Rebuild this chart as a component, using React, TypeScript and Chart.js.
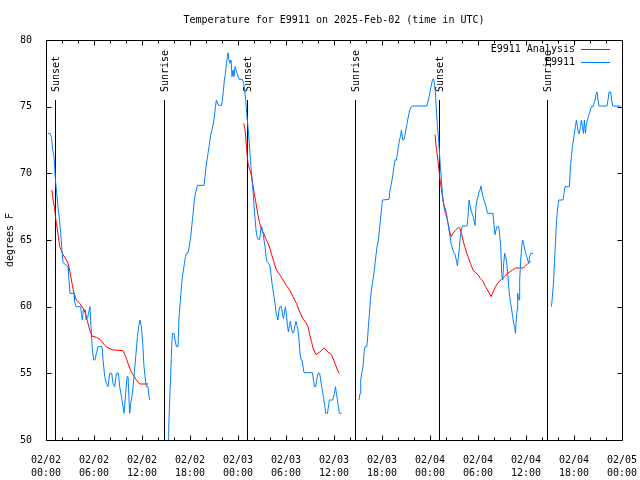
import React, { useEffect, useRef } from 'react';
import { Chart, registerables } from 'chart.js';

Chart.register(...registerables);

type Pt = [number, number];

// time axis: hours since 2025-02-02 00:00 UTC
const chartTitle = 'Temperature for E9911 on 2025-Feb-02 (time in UTC)';
const yAxisTitle = 'degrees F';
const xTickLabels = [
  '02/02\n00:00', '02/02\n06:00', '02/02\n12:00', '02/02\n18:00',
  '02/03\n00:00', '02/03\n06:00', '02/03\n12:00', '02/03\n18:00',
  '02/04\n00:00', '02/04\n06:00', '02/04\n12:00', '02/04\n18:00',
  '02/05\n00:00',
];
const sunEventTimes = [1.13, 14.75, 25.13, 38.63, 49.18, 62.63];
const sunEventLabels = ['Sunset', 'Sunrise', 'Sunset', 'Sunrise', 'Sunset', 'Sunrise'];
const seriesNames = ['E9911 Analysis', 'E9911'];

const analysisSeg1: Pt[] = [
  [0.75, 68.75], [0.88, 68.0], [1.05, 67.5], [1.18, 66.75], [1.3, 66.25], [1.43, 65.75],
  [1.71, 64.5], [1.88, 64.25], [2.13, 63.9], [2.55, 63.5], [2.75, 63.25], [2.96, 62.75],
  [3.25, 61.75], [3.5, 61.0], [3.8, 60.5], [4.21, 60.25], [4.63, 59.9], [4.93, 59.5],
  [5.18, 58.9], [5.46, 58.25], [5.75, 57.8], [6.3, 57.7], [6.84, 57.5], [7.34, 57.1],
  [7.75, 56.9], [8.38, 56.75], [9.63, 56.7], [9.96, 56.25], [10.25, 55.75], [10.55, 55.25],
  [10.88, 54.9], [11.3, 54.5], [11.71, 54.2], [12.8, 54.2],
];
const analysisSeg2: Pt[] = [
  [24.71, 73.75], [24.88, 73.25], [25.0, 72.5], [25.13, 71.5], [25.25, 70.75], [25.46, 70.3],
  [25.71, 69.75], [25.96, 68.75], [26.21, 67.9], [26.46, 67.0], [26.71, 66.25], [26.96, 65.75],
  [27.21, 65.5], [27.46, 65.1], [27.75, 64.75], [27.96, 64.4], [28.21, 63.9], [28.46, 63.4],
  [28.8, 62.75], [29.21, 62.4], [29.63, 62.0], [30.05, 61.6], [30.46, 61.25], [30.88, 60.75],
  [31.3, 60.25], [31.71, 59.6], [32.13, 59.1], [32.55, 58.75], [32.75, 58.5], [32.96, 57.9],
  [33.18, 57.4], [33.38, 56.9], [33.59, 56.6], [33.75, 56.4], [34.21, 56.6], [34.75, 56.9],
  [35.25, 56.6], [35.68, 56.4], [35.96, 56.0], [36.21, 55.6], [36.43, 55.25], [36.63, 55.0],
];
const analysisSeg3: Pt[] = [
  [48.63, 72.9], [48.75, 72.1], [48.88, 71.5], [49.0, 70.9], [49.13, 70.25], [49.25, 69.5],
  [49.38, 69.0], [49.5, 68.5], [49.63, 68.0], [49.75, 67.6], [49.88, 67.4], [50.05, 67.0],
  [50.18, 66.5], [50.34, 66.0], [50.46, 65.6], [50.63, 65.25], [50.88, 65.5], [51.21, 65.75],
  [51.55, 65.95], [51.71, 65.9], [51.93, 65.5], [52.13, 65.0], [52.34, 64.5], [52.55, 64.1],
  [52.75, 63.75], [53.05, 63.25], [53.38, 62.75], [53.68, 62.55], [54.0, 62.4], [54.3, 62.1],
  [54.63, 61.9], [54.93, 61.5], [55.18, 61.25], [55.46, 60.95], [55.63, 60.75], [55.88, 61.1],
  [56.18, 61.5], [56.5, 61.8], [56.93, 62.05], [57.34, 62.25], [57.68, 62.5], [57.96, 62.6],
  [58.3, 62.75], [58.68, 62.9], [59.21, 62.9], [59.63, 62.9], [59.93, 63.05], [60.25, 63.25],
  [60.59, 63.4],
];

const obsSeg1: Pt[] = [
  [0.25, 73.0], [0.5, 73.0], [0.68, 72.7], [0.84, 71.75], [1.0, 71.25], [1.18, 69.5],
  [1.34, 68.5], [1.5, 67.5], [1.68, 66.5], [1.84, 65.5], [2.0, 64.2], [2.13, 63.3],
  [2.75, 63.0], [2.81, 62.5], [3.0, 61.0], [3.5, 61.0], [3.56, 60.4], [3.75, 60.0],
  [4.34, 60.0], [4.43, 59.4], [4.55, 59.0], [4.68, 59.75], [4.93, 59.75], [5.0, 59.0],
  [5.21, 59.2], [5.34, 59.6], [5.5, 60.0], [5.68, 57.9], [5.8, 56.75], [5.96, 56.0],
  [6.13, 56.0], [6.3, 56.5], [6.5, 57.0], [7.0, 57.0], [7.13, 56.0], [7.34, 54.75],
  [7.55, 54.25], [7.75, 54.0], [7.96, 55.0], [8.21, 55.0], [8.38, 54.25], [8.59, 54.0],
  [8.8, 55.0], [9.05, 55.0], [9.21, 54.0], [9.43, 53.25], [9.63, 52.5], [9.75, 52.0],
  [9.96, 53.5], [10.13, 54.75], [10.25, 54.75], [10.46, 52.0], [10.59, 52.75], [10.8, 53.5],
  [11.0, 54.75], [11.25, 56.5], [11.43, 57.75], [11.59, 58.5], [11.75, 59.0], [11.93, 58.5],
  [12.09, 57.25], [12.25, 55.5], [12.43, 54.5], [12.55, 54.0], [12.75, 54.0], [12.88, 53.25],
  [13.0, 53.0],
];
const obsSeg2: Pt[] = [
  [15.25, 50.0], [15.34, 51.0], [15.46, 53.0], [15.59, 55.0], [15.71, 57.0], [15.8, 58.0],
  [16.0, 58.0], [16.13, 57.5], [16.3, 57.0], [16.5, 57.0], [16.63, 59.25], [16.8, 60.5],
  [16.93, 61.5], [17.05, 62.25], [17.18, 62.75], [17.3, 63.25], [17.43, 63.75], [17.55, 64.0],
  [17.71, 64.0], [17.84, 64.25], [17.96, 64.75], [18.09, 65.25], [18.3, 66.5], [18.43, 67.25],
  [18.55, 68.0], [18.68, 68.5], [18.93, 69.1], [19.75, 69.1], [19.88, 69.75], [20.0, 70.5],
  [20.13, 71.0], [20.25, 71.5], [20.38, 72.0], [20.5, 72.5], [20.63, 73.0], [20.8, 73.4],
  [20.93, 73.75], [21.05, 74.25], [21.18, 75.0], [21.3, 75.5], [21.55, 75.1], [21.93, 75.1],
  [22.05, 75.5], [22.18, 76.25], [22.3, 77.0], [22.43, 77.5], [22.55, 78.25], [22.68, 78.75],
  [22.75, 79.05], [22.88, 78.5], [23.0, 78.25], [23.13, 78.5], [23.25, 77.25], [23.38, 77.75],
  [23.5, 77.25], [23.63, 78.0], [23.75, 77.75], [23.88, 77.5], [24.0, 77.25], [24.13, 77.05],
  [24.55, 77.05], [24.71, 76.75], [24.84, 76.25], [24.96, 75.5], [25.13, 74.2], [25.25, 73.5],
  [25.38, 72.5], [25.5, 71.5], [25.63, 70.5], [25.75, 69.5], [25.88, 68.6], [26.0, 67.6],
  [26.13, 66.6], [26.25, 65.75], [26.38, 65.25], [26.5, 65.05], [26.71, 65.05], [26.84, 65.75],
  [26.96, 66.0], [27.13, 65.5], [27.25, 65.0], [27.38, 64.5], [27.5, 63.75], [27.63, 63.4],
  [27.8, 63.25], [28.0, 63.05], [28.13, 62.4], [28.25, 61.75], [28.38, 61.25], [28.5, 60.75],
  [28.63, 60.25], [28.75, 59.6], [28.88, 59.25], [29.0, 59.0], [29.13, 59.75], [29.25, 60.0],
  [29.43, 60.0], [29.55, 59.5], [29.68, 59.1], [29.8, 59.6], [29.93, 60.0], [30.05, 59.4],
  [30.18, 58.6], [30.3, 58.1], [30.43, 58.6], [30.55, 58.9], [30.68, 58.4], [30.8, 58.05],
  [30.96, 58.05], [31.09, 58.5], [31.25, 58.9], [31.38, 58.6], [31.5, 58.25], [31.63, 57.5],
  [31.75, 56.5], [31.88, 56.0], [32.0, 56.0], [32.13, 55.5], [32.25, 55.05], [33.3, 55.05],
  [33.43, 54.5], [33.55, 54.0], [33.71, 54.0], [33.84, 54.5], [34.0, 55.0], [34.21, 55.0],
  [34.34, 54.5], [34.46, 54.0], [34.59, 53.5], [34.71, 53.1], [34.84, 52.6], [34.96, 52.0],
  [35.18, 52.0], [35.3, 52.5], [35.43, 53.0], [35.84, 53.0], [36.05, 53.5], [36.18, 54.0],
  [36.3, 53.5], [36.43, 53.0], [36.55, 52.5], [36.68, 52.0], [36.93, 52.0],
];
const obsSeg3: Pt[] = [
  [39.13, 53.0], [39.25, 53.5], [39.34, 54.5], [39.46, 55.0], [39.63, 55.5], [39.75, 56.5],
  [39.88, 57.0], [40.09, 57.0], [40.18, 57.5], [40.3, 58.5], [40.43, 59.5], [40.55, 60.5],
  [40.68, 61.25], [40.8, 61.75], [40.93, 62.25], [41.05, 62.75], [41.18, 63.5], [41.38, 64.5],
  [41.55, 65.0], [41.68, 65.75], [41.8, 66.5], [41.93, 67.25], [42.05, 68.0], [42.88, 68.05],
  [43.0, 68.75], [43.13, 69.1], [43.25, 69.5], [43.38, 70.0], [43.5, 70.5], [43.63, 71.0],
  [43.8, 71.0], [43.93, 71.5], [44.05, 72.0], [44.18, 72.5], [44.3, 72.75], [44.43, 73.25],
  [44.59, 72.5], [44.71, 72.5], [44.84, 72.75], [44.96, 73.25], [45.09, 73.6], [45.21, 74.0],
  [45.34, 74.4], [45.46, 74.75], [45.68, 75.0], [45.88, 75.05], [47.63, 75.05], [47.75, 75.4],
  [47.88, 75.75], [48.0, 76.1], [48.13, 76.5], [48.3, 77.0], [48.43, 77.1], [48.55, 76.75],
  [48.68, 76.0], [48.8, 74.75], [48.93, 73.5], [49.05, 72.75], [49.3, 70.5], [49.43, 69.5],
  [49.55, 68.5], [49.68, 67.75], [49.8, 67.25], [49.93, 67.0], [50.13, 66.6], [50.25, 66.25],
  [50.38, 65.75], [50.5, 65.25], [50.63, 64.75], [50.75, 64.5], [50.93, 64.1], [51.09, 64.0],
  [51.25, 63.6], [51.43, 63.05], [51.55, 63.75], [51.68, 64.5], [51.8, 65.25], [51.93, 65.75],
  [52.05, 66.05], [52.63, 66.05], [52.75, 66.75], [52.88, 68.0], [53.0, 67.6], [53.13, 67.25],
  [53.25, 67.0], [53.38, 66.75], [53.5, 66.5], [53.63, 66.1], [53.75, 67.5], [53.88, 68.0],
  [54.0, 68.25], [54.13, 68.6], [54.25, 68.75], [54.38, 69.05], [54.5, 68.6], [54.63, 68.25],
  [54.75, 68.0], [54.88, 67.75], [55.05, 67.4], [55.18, 67.0], [55.88, 67.0], [56.0, 66.1],
  [56.13, 65.4], [56.25, 65.75], [56.38, 66.0], [56.59, 66.0], [56.71, 65.4], [56.84, 64.5],
  [56.96, 62.5], [57.09, 62.0], [57.21, 63.25], [57.34, 64.0], [57.46, 63.75], [57.59, 63.25],
  [57.71, 62.5], [57.84, 61.5], [57.96, 60.75], [58.09, 60.25], [58.21, 59.75], [58.34, 59.25],
  [58.46, 58.75], [58.59, 58.5], [58.68, 58.0], [58.75, 58.75], [58.88, 59.75], [58.96, 61.0],
  [59.05, 60.75], [59.13, 60.5], [59.21, 62.0], [59.34, 63.5], [59.46, 64.5], [59.59, 65.0],
  [59.71, 64.75], [59.84, 64.3], [59.96, 64.0], [60.09, 63.75], [60.21, 63.5], [60.34, 63.25],
  [60.46, 63.75], [60.59, 64.0], [60.88, 64.0],
];
const obsSeg4: Pt[] = [
  [63.18, 60.0], [63.3, 60.75], [63.43, 61.75], [63.55, 63.25], [63.68, 64.75], [63.8, 66.25],
  [63.93, 67.25], [64.09, 68.0], [64.63, 68.0], [64.75, 68.5], [64.88, 69.0], [65.43, 69.0],
  [65.55, 70.5], [65.68, 71.25], [65.8, 72.0], [65.93, 72.5], [66.05, 73.0], [66.18, 73.5],
  [66.3, 74.0], [66.43, 73.5], [66.55, 73.0], [66.68, 73.0], [66.8, 73.5], [66.93, 74.0],
  [67.05, 73.5], [67.18, 73.0], [67.3, 74.0], [67.43, 73.0], [67.55, 73.75], [67.68, 74.0],
  [67.8, 74.25], [67.93, 74.5], [68.05, 74.75], [68.18, 75.0], [68.38, 75.0], [68.5, 75.25],
  [68.63, 75.5], [68.75, 75.9], [68.88, 76.1], [69.0, 75.5], [69.13, 75.05], [70.13, 75.05],
  [70.25, 75.5], [70.38, 76.1], [70.59, 76.1], [70.71, 75.5], [70.84, 75.05], [71.84, 75.05],
];

const analysisSegments = [analysisSeg1, analysisSeg2, analysisSeg3];
const obsSegments = [obsSeg1, obsSeg2, obsSeg3, obsSeg4];

const RED = '#ff0000';
const BLUE = '#0080ff';
const FONT = '"DejaVu Sans Mono", "Liberation Mono", monospace';

function joinSegments(segs: Pt[][]) {
  const out: { x: number; y: number | null }[] = [];
  segs.forEach((s, i) => {
    if (i > 0) out.push({ x: s[0][0] - 0.05, y: null });
    s.forEach(([x, y]) => out.push({ x, y }));
  });
  return out;
}

const framePlugin = {
  id: 'frame',
  beforeDatasetsDraw(chart: any) {
    const { ctx, chartArea } = chart;
    const xs = chart.scales.x;
    ctx.save();
    ctx.strokeStyle = '#000';
    ctx.lineWidth = 1;
    ctx.fillStyle = '#000';
    ctx.font = `10px ${FONT}`;
    sunEventTimes.forEach((t, i) => {
      const px = Math.round(xs.getPixelForValue(t)) + 0.5;
      ctx.beginPath();
      ctx.moveTo(px, 100);
      ctx.lineTo(px, chartArea.bottom);
      ctx.stroke();
      ctx.save();
      ctx.translate(px + 1, 92);
      ctx.rotate(-Math.PI / 2);
      ctx.textAlign = 'left';
      ctx.textBaseline = 'middle';
      ctx.fillText(sunEventLabels[i], 0, 0);
      ctx.restore();
    });
    ctx.restore();
  },
  afterDraw(chart: any) {
    const { ctx, chartArea } = chart;
    const { left, right, top, bottom } = chartArea;
    const xs = chart.scales.x;
    const ys = chart.scales.y;
    ctx.save();
    ctx.strokeStyle = '#000';
    ctx.lineWidth = 1;
    const L = Math.round(left) + 0.5;
    const R = Math.round(right) + 0.5;
    const T = Math.round(top) + 0.5;
    const B = Math.round(bottom) + 0.5;
    ctx.beginPath();
    ctx.rect(L, T, R - L, B - T);
    for (let h = 0; h <= 72; h += 2) {
      const px = Math.round(xs.getPixelForValue(h)) + 0.5;
      const len = h % 6 === 0 ? 5 : 3;
      ctx.moveTo(px, B);
      ctx.lineTo(px, B - len);
      ctx.moveTo(px, T);
      ctx.lineTo(px, T + len);
    }
    for (let v = 50; v <= 80; v += 5) {
      const py = Math.round(ys.getPixelForValue(v)) + 0.5;
      ctx.moveTo(L, py);
      ctx.lineTo(L + 5, py);
      ctx.moveTo(R, py);
      ctx.lineTo(R - 5, py);
    }
    ctx.stroke();

    ctx.fillStyle = '#000';
    ctx.font = `10px ${FONT}`;
    ctx.textBaseline = 'middle';
    ctx.textAlign = 'center';
    ctx.fillText(chartTitle, (left + right) / 2, 20);

    ctx.save();
    ctx.translate(10, (top + bottom) / 2);
    ctx.rotate(-Math.PI / 2);
    ctx.fillText(yAxisTitle, 0, 0);
    ctx.restore();

    const colors = [RED, BLUE];
    seriesNames.forEach((name, i) => {
      const y = 49 + i * 13;
      ctx.fillStyle = '#000';
      ctx.textAlign = 'right';
      ctx.fillText(name, 575, y);
      ctx.strokeStyle = colors[i];
      ctx.beginPath();
      ctx.moveTo(581, y + 0.5);
      ctx.lineTo(610, y + 0.5);
      ctx.stroke();
    });
    ctx.restore();
  },
};

export default function App() {
  const ref = useRef<HTMLCanvasElement | null>(null);
  useEffect(() => {
    if (!ref.current) return;
    const chart = new Chart(ref.current, {
      type: 'line',
      data: {
        datasets: [
          {
            label: seriesNames[1],
            data: joinSegments(obsSegments) as any,
            borderColor: BLUE,
            borderWidth: 1,
            pointRadius: 0,
            tension: 0,
            spanGaps: false,
          },
          {
            label: seriesNames[0],
            data: joinSegments(analysisSegments) as any,
            borderColor: RED,
            borderWidth: 1,
            pointRadius: 0,
            tension: 0,
            spanGaps: false,
          },
        ],
      },
      options: {
        animation: false,
        responsive: false,
        parsing: false as any,
        layout: { padding: { left: 0, top: 40, right: 18, bottom: 0 } },
        plugins: {
          legend: { display: false },
          title: { display: false },
          tooltip: { enabled: false },
        },
        scales: {
          x: {
            type: 'linear',
            min: 0,
            max: 72,
            grid: { display: false },
            border: { display: false },
            afterFit: (s: any) => {
              s.height = 40;
              s.paddingLeft = 0;
              s.paddingRight = 0;
            },
            ticks: {
              stepSize: 6,
              autoSkip: false,
              maxRotation: 0,
              padding: 6,
              color: '#000',
              font: { family: FONT, size: 10, lineHeight: 1.3 },
              callback: (v: any) => {
                const idx = Math.round(Number(v) / 6);
                const lbl = xTickLabels[idx];
                return lbl ? lbl.split('\n') : '';
              },
            },
          },
          y: {
            type: 'linear',
            min: 50,
            max: 80,
            grid: { display: false },
            border: { display: false },
            afterFit: (s: any) => {
              s.width = 46;
            },
            ticks: {
              stepSize: 5,
              padding: 6,
              color: '#000',
              font: { family: FONT, size: 10 },
            },
          },
        },
      },
      plugins: [framePlugin],
    });
    return () => chart.destroy();
  }, []);
  return (
    <div style={{ position: 'absolute', left: 0, top: 0, width: 640, height: 480, background: '#fff' }}>
      <canvas ref={ref} width={640} height={480} style={{ width: 640, height: 480 }} />
    </div>
  );
}
